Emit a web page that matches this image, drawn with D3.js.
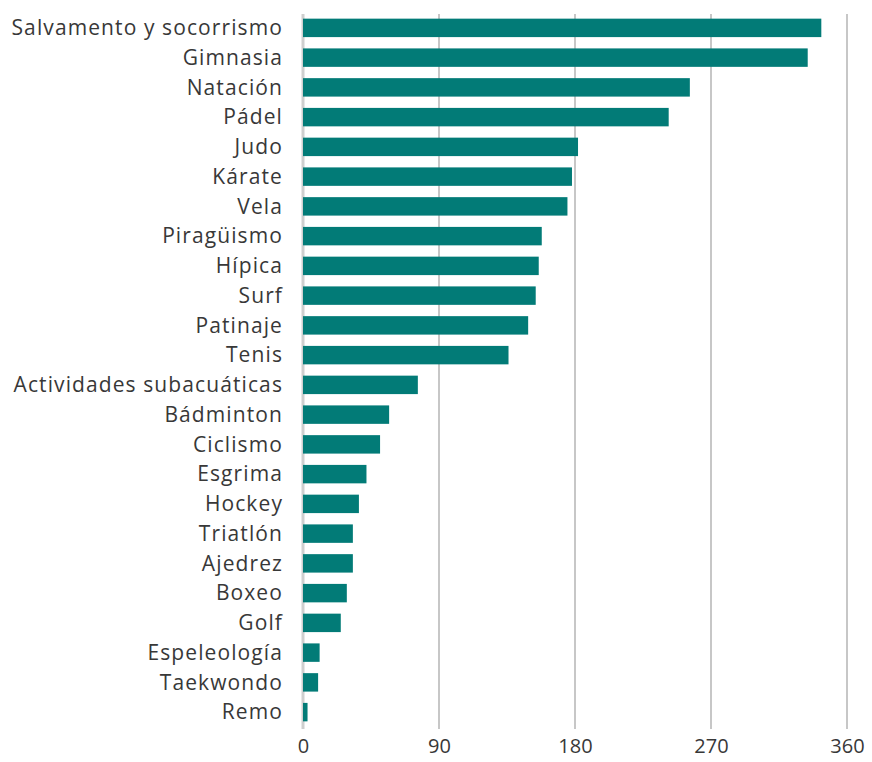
<!DOCTYPE html>
<html>
<head>
<meta charset="utf-8">
<script src="https://cdn.jsdelivr.net/npm/d3@7"></script>
<style>
  body { margin: 0; background: #fff; }
  #chart text { font-family: "Open Sans", Lato, sans-serif; fill: #383838; }
</style>
</head>
<body>
<div id="chart"></div>
<script>
// Sports, top to bottom
const sports = [
    "Salvamento y socorrismo", "Gimnasia", "Natación", "Pádel", "Judo", "Kárate",
    "Vela", "Piragüismo", "Hípica", "Surf", "Patinaje", "Tenis",
    "Actividades subacuáticas", "Bádminton", "Ciclismo", "Esgrima", "Hockey",
    "Triatlón", "Ajedrez", "Boxeo", "Golf", "Espeleología", "Taekwondo", "Remo"
];
const values = [
    343, 334, 256, 242, 182, 178,
    175, 158, 156, 154, 149, 136,
    76, 57, 51, 42, 37,
    33, 33, 29, 25, 11, 10, 3
];
const xTicks = [0, 90, 180, 270, 360];

const width = 872, height = 762;
const margin = { top: 13, right: 25, bottom: 35, left: 303 };

const data = sports.map((s, i) => ({ name: s, value: values[i] }));

const svg = d3.select("#chart")
    .append("svg")
    .attr("width", width)
    .attr("height", height);

// Scales
const x = d3.scaleLinear()
    .domain([0, 360])
    .range([margin.left, width - margin.right]);

const y = d3.scaleBand()
    .domain(sports)
    .range([margin.top, height - margin.bottom])
    .paddingInner(0.38)
    .paddingOuter(0.19);

// Vertical gridlines
svg.append("g")
    .selectAll("line")
    .data(xTicks)
    .enter().append("line")
    .attr("x1", d => x(d))
    .attr("x2", d => x(d))
    .attr("y1", margin.top + 1)
    .attr("y2", height - margin.bottom + 2)
    .attr("stroke", d => d === 0 ? "#cfcfcf" : "#b5b5b5")
    .attr("stroke-width", d => d === 0 ? 3 : 1.5);

// Bars
svg.append("g")
    .selectAll("rect")
    .data(data)
    .enter().append("rect")
    .attr("x", x(0))
    .attr("y", d => y(d.name))
    .attr("width", d => x(d.value) - x(0))
    .attr("height", y.bandwidth())
    .attr("fill", "#027b77");

// Category labels
svg.append("g")
    .attr("transform", `translate(${x(0) - 20},0)`)
    .call(d3.axisLeft(y).tickSize(0).tickPadding(0))
    .call(g => g.select(".domain").remove())
    .selectAll("text")
    .style("font-size", "21px")
    .style("letter-spacing", "1.1px")
    .attr("dy", "0.35em");

// X tick labels
svg.append("g")
    .attr("transform", `translate(0,${height - margin.bottom})`)
    .call(d3.axisBottom(x).tickValues(xTicks).tickSize(0).tickPadding(12))
    .call(g => g.select(".domain").remove())
    .selectAll("text")
    .style("font-size", "20px");
</script>
</body>
</html>
